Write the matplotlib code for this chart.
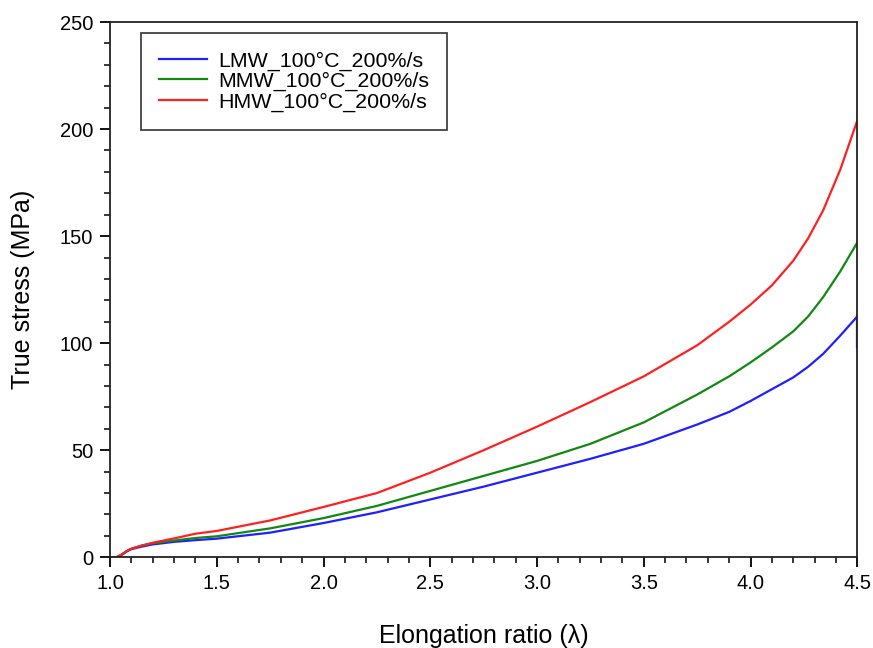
import matplotlib
matplotlib.use("Agg")
import matplotlib.pyplot as plt
from matplotlib.ticker import MultipleLocator

plt.rcParams['font.family'] = ['Liberation Sans', 'DejaVu Sans']

lam = [1.0, 1.03, 1.05, 1.08, 1.1, 1.15, 1.2, 1.3, 1.4, 1.5, 1.75, 2.0, 2.25,
       2.5, 2.75, 3.0, 3.25, 3.5, 3.75, 3.9, 4.0, 4.1, 4.2, 4.27, 4.34, 4.42, 4.5]

lmw = [0, 0, 0.8, 2.8, 3.8, 5.0, 6.0, 7.2, 8.0, 8.7, 11.5, 16, 21,
       27, 33, 39.5, 46, 53, 62, 67.9, 73, 78.5, 84, 89, 95, 103.5, 112.5]
mmw = [0, 0, 1.0, 3.0, 4.0, 5.5, 6.5, 7.8, 9.0, 9.8, 13.5, 18.3, 24,
       31, 38, 45, 53, 63, 76, 84.5, 91, 98, 105.5, 112.5, 121.5, 133.5, 147]
hmw = [0, 0, 1.0, 3.0, 4.0, 5.5, 6.8, 8.8, 11.0, 12.3, 17.2, 23.5, 30,
       39.5, 50, 61, 72.5, 84.5, 99, 110, 118, 127, 138.5, 149, 162, 181, 204]

lmw_end_lam = [4.5, 4.5]
lmw_end_val = [112.5, 98]

labels = ["LMW_100\u00b0C_200%/s", "MMW_100\u00b0C_200%/s", "HMW_100\u00b0C_200%/s"]
colors = ["#1f1fff", "#118811", "#ff2020"]

fig = plt.figure(figsize=(8.73, 6.48), dpi=100)
ax = fig.add_axes([0.126, 0.140, 0.856, 0.826])

ax.plot(lam, lmw, color=colors[0], lw=1.6, label=labels[0])
ax.plot(lam, mmw, color=colors[1], lw=1.6, label=labels[1])
ax.plot(lam, hmw, color=colors[2], lw=1.6, label=labels[2])
ax.plot(lmw_end_lam, lmw_end_val, color=colors[0], lw=1.6)

ax.set_xlim(1.0, 4.5)
ax.set_ylim(0, 250)
ax.xaxis.set_major_locator(MultipleLocator(0.5))
ax.xaxis.set_minor_locator(MultipleLocator(0.1))
ax.yaxis.set_major_locator(MultipleLocator(50))
ax.yaxis.set_minor_locator(MultipleLocator(10))
ax.xaxis.set_major_formatter(plt.FuncFormatter(lambda v, p: f"{v:.1f}"))

ax.tick_params(which='major', direction='out', length=7, width=1.3, labelsize=14.5, pad=5)
ax.tick_params(which='minor', direction='out', length=4, width=1.1)
ax.tick_params(top=False, right=False, which='both')
for s in ax.spines.values():
    s.set_linewidth(1.3)
    s.set_color('#222222')

ax.set_xlabel("Elongation ratio (\u03bb)", fontsize=18, labelpad=22)
ax.set_ylabel("True stress (MPa)", fontsize=18, labelpad=18)

leg = ax.legend(loc='upper left', bbox_to_anchor=(0.0415, 0.979), fontsize=15.4,
                frameon=True, fancybox=False, edgecolor='black', borderpad=0.85,
                handlelength=2.25, handletextpad=0.5, labelspacing=0.05,
                borderaxespad=0)
leg.get_frame().set_linewidth(1.2)

fig.savefig("out.png", dpi=100)
